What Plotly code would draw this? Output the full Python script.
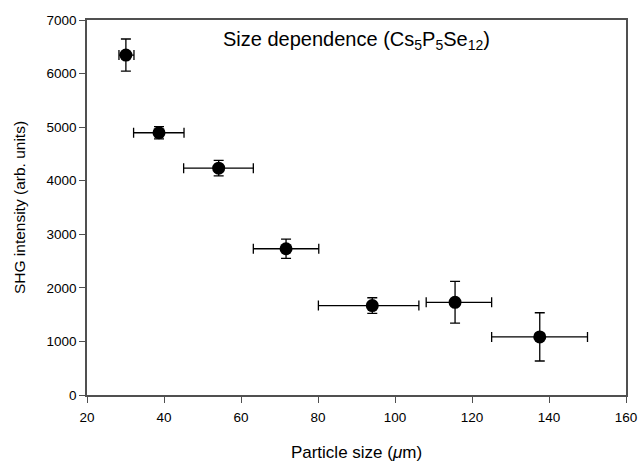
import plotly.graph_objects as go

particle_size = [30.1, 38.7, 54.2, 71.7, 94.1, 115.6, 137.6]
shg_intensity = [6345, 4895, 4235, 2730, 1670, 1730, 1085]
shg_err = [300, 115, 145, 178, 145, 390, 450]
size_err_plus = [2.1, 6.5, 9.0, 8.5, 12.1, 9.5, 12.4]
size_err_minus = [1.8, 6.6, 9.1, 8.5, 14.0, 7.5, 12.5]

x_ticks = [20, 40, 60, 80, 100, 120, 140, 160]
y_ticks = [0, 1000, 2000, 3000, 4000, 5000, 6000, 7000]

FONT = "Liberation Sans, Arial, sans-serif"
AX = "#505050"

fig = go.Figure()
fig.add_trace(go.Scatter(
    x=particle_size, y=shg_intensity, mode="markers",
    marker=dict(color="black", size=13),
    error_y=dict(type="data", array=shg_err, color="black", thickness=1.3, width=5),
    error_x=dict(type="data", symmetric=False, array=size_err_plus,
                 arrayminus=size_err_minus, color="black", thickness=1.3, width=5),
    showlegend=False,
))

fig.add_annotation(
    x=0.5, y=0.945, xref="paper", yref="paper", yanchor="middle",
    text="Size dependence (Cs<sub>5</sub>P<sub>5</sub>Se<sub>12</sub>)",
    showarrow=False, font=dict(family=FONT, size=20, color="black"),
)

fig.update_layout(
    width=640, height=462,
    margin=dict(l=87, r=14, t=20, b=67),
    paper_bgcolor="white", plot_bgcolor="white",
    font=dict(family=FONT, size=13.5, color="black"),
    xaxis=dict(
        range=[20, 160], tickvals=x_ticks, showgrid=False, zeroline=False,
        showline=True, linecolor=AX, linewidth=1.5, mirror=True,
        ticks="outside", ticklen=6, tickcolor=AX, tickwidth=1.2,
        ticklabelstandoff=3, automargin=False,
        title=dict(text="Particle size (<i>μ</i>m)", font=dict(size=17), standoff=26),
    ),
    yaxis=dict(
        range=[0, 7000], tickvals=y_ticks, showgrid=False, zeroline=False,
        showline=True, linecolor=AX, linewidth=1.5, mirror=True,
        ticks="outside", ticklen=6, tickcolor=AX, tickwidth=1.2,
        automargin=False,
        title=dict(text="SHG intensity (arb. units)", font=dict(size=15.5), standoff=17),
    ),
)

fig.write_html(
    "out.html",
    config={"displayModeBar": False},
    post_script="document.body.style.margin='0';document.body.style.overflow='hidden';",
)
